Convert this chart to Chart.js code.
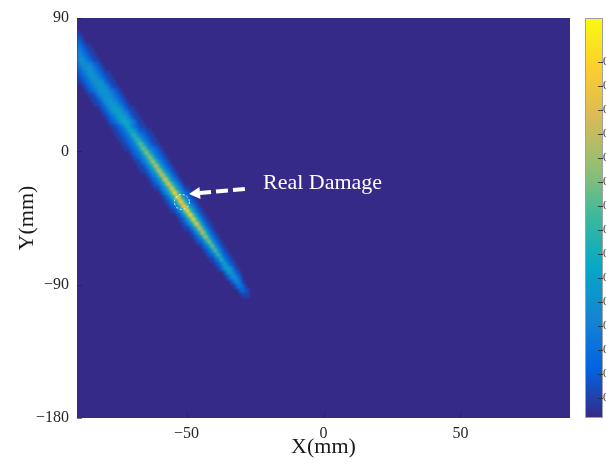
<!DOCTYPE html>
<html>
<head>
<meta charset="utf-8">
<script src="https://cdn.jsdelivr.net/npm/chart.js@4/dist/chart.umd.min.js"></script>
<style>
html,body{margin:0;padding:0;background:#ffffff;overflow:hidden}
canvas{display:block}
</style>
</head>
<body>
<canvas id="c" width="606" height="467"></canvas>
<script>
// ---------------- data ----------------
const xTickValues = [-50, 0, 50];
const yTickValues = [-180, -90, 0, 90];
const colorbarTickValues = [0.05, 0.11, 0.17, 0.23, 0.29, 0.35, 0.41, 0.47, 0.53, 0.59, 0.65, 0.71, 0.77, 0.83, 0.89];

// heat-map rows: row centre Y (mm), X (mm) of the first listed cell, cell levels (0..k = 0..20 of 20)
const rowY = [80, 77, 74, 71, 68, 65, 62, 59, 56, 53, 50, 47, 44, 41, 38, 35, 32, 29, 26, 23,
              20, 17, 14, 11, 8, 5, 2, -1, -4, -7, -10, -13, -16, -19, -22, -25, -28, -31, -34, -37,
              -40, -43, -46, -49, -52, -55, -58, -61, -64, -67, -70, -73, -76, -79, -82, -85, -88, -91, -94, -97];
const rowStartX = [-90, -90, -90, -90, -90, -90, -90, -90, -90, -90, -90, -90, -88, -87, -86, -85, -84, -82, -81, -80,
                   -79, -78, -77, -76, -75, -74, -73, -71, -70, -69, -68, -67, -65, -64, -63, -62, -60, -59, -58, -57,
                   -56, -54, -53, -52, -51, -49, -48, -47, -45, -44, -43, -42, -40, -39, -37, -36, -34, -33, -31, -30];
const rowLevels = [
  "1", "21", "321", "43211", "543211", "5543211", "56543211", "456554321", "3456654321", "234566543211",
  "1234566543211", "11234566653211", "1234566654211", "1234566654321", "1124566654321", "1123566654321",
  "1123567664321", "1235677653211", "1235677654211", "1234677754211", "1234678764311", "1123468643211",
  "11234687532211", "11234698543211", "11234699643211", "112346ab753211", "112346ac854321", "12346ad964321",
  "123469da64321", "113469eb75321", "112468ec75321", "112468ed85421", "12458de96421", "12357dga6431",
  "12357cgb7531", "11357bhc75311", "1357bid85321", "1247aif86321", "12469hg96321", "12369gh96421",
  "11358eia6421", "1257dib7421", "1247bib7421", "1246ahc7421", "11358fc7421", "1257ec7421",
  "1246cc6421", "1235ac6421", "1348c6421", "1247b6421", "1235a6321", "113496321",
  "12476321", "12577521", "1466421", "135642", "24541", "13431", "2321", "111"
];
const levelChars = "0123456789abcdefghijk";
const levelMax = 20;

// annotation (data coordinates, mm)
const damagePoint = [-51.7, -34.2];
const arrowFrom = [-28.7, -25.4];
const arrowTo = [-49.1, -28.8];
const labelAt = [-22.1, -21.4];
const labelText = "Real Damage";

// ---------------- styles ----------------
const cellW = 1;   // mm
const cellH = 3;   // mm
const SERIF = '"Liberation Serif", "Times New Roman", "DejaVu Serif", serif';
const PARULA = ['#352a87', '#0363e1', '#1485d4', '#06a7c6', '#38b99e', '#92bf73', '#d9ba56', '#fcce2e', '#f9fb0e'];

function hexRgb(h) { return [parseInt(h.slice(1, 3), 16), parseInt(h.slice(3, 5), 16), parseInt(h.slice(5, 7), 16)]; }
const PARULA_RGB = PARULA.map(hexRgb);
function parula(t) {
  t = Math.max(0, Math.min(1, t));
  const n = PARULA_RGB.length - 1;
  const f = t * n;
  const i = Math.min(Math.floor(f), n - 1);
  const r = f - i;
  const a = PARULA_RGB[i], b = PARULA_RGB[i + 1];
  return 'rgb(' + Math.round(a[0] + (b[0] - a[0]) * r) + ',' + Math.round(a[1] + (b[1] - a[1]) * r) + ',' + Math.round(a[2] + (b[2] - a[2]) * r) + ')';
}
function fmtMinus(v) { return v < 0 ? '\u2212' + Math.abs(v) : String(v); }

const heatPlugin = {
  id: 'heat',
  beforeDatasetsDraw(chart) {
    const { ctx, chartArea: ca, scales } = chart;
    const xs = scales.x, ys = scales.y;
    const off = document.createElement('canvas');
    off.width = chart.width; off.height = chart.height;
    const o = off.getContext('2d');
    o.fillStyle = parula(0);
    o.fillRect(ca.left - 6, ca.top - 6, ca.right - ca.left + 12, ca.bottom - ca.top + 12);
    rowY.forEach((yc, i) => {
      const yTop = ys.getPixelForValue(yc + cellH / 2);
      const yBot = ys.getPixelForValue(yc - cellH / 2);
      const s = rowLevels[i];
      for (let j = 0; j < s.length; j++) {
        const lv = levelChars.indexOf(s[j]);
        if (lv <= 0) continue;
        const x0 = xs.getPixelForValue(rowStartX[i] + j * cellW);
        const x1 = xs.getPixelForValue(rowStartX[i] + (j + 1) * cellW);
        o.fillStyle = parula(lv / levelMax);
        o.fillRect(x0, yTop, x1 - x0 + 0.6, yBot - yTop + 0.6);
      }
    });
    ctx.save();
    ctx.beginPath();
    ctx.rect(ca.left, ca.top, ca.right - ca.left, ca.bottom - ca.top);
    ctx.clip();
    ctx.fillStyle = parula(0);
    ctx.fillRect(ca.left, ca.top, ca.right - ca.left, ca.bottom - ca.top);
    ctx.filter = 'blur(1.1px)';
    ctx.drawImage(off, 0, 0);
    ctx.filter = 'none';
    ctx.restore();

    // inward tick marks
    ctx.save();
    ctx.strokeStyle = 'rgba(30,30,50,0.6)';
    ctx.lineWidth = 1;
    xTickValues.forEach(v => {
      const px = Math.round(xs.getPixelForValue(v)) + 0.5;
      ctx.beginPath(); ctx.moveTo(px, ca.bottom); ctx.lineTo(px, ca.bottom - 5); ctx.stroke();
    });
    yTickValues.forEach(v => {
      const py = Math.round(ys.getPixelForValue(v)) + 0.5;
      ctx.beginPath(); ctx.moveTo(ca.left, py); ctx.lineTo(ca.left + 5, py); ctx.stroke();
    });
    ctx.restore();
  },
  afterDatasetsDraw(chart) {
    const { ctx, scales } = chart;
    const xs = scales.x, ys = scales.y;
    ctx.save();
    // dashed circle
    const cx = xs.getPixelForValue(damagePoint[0]), cy = ys.getPixelForValue(damagePoint[1]);
    ctx.strokeStyle = 'rgba(255,255,255,0.9)';
    ctx.lineWidth = 1;
    ctx.setLineDash([2, 2]);
    ctx.beginPath(); ctx.arc(cx, cy, 7.5, 0, Math.PI * 2); ctx.stroke();
    // dashed arrow
    const ax0 = xs.getPixelForValue(arrowFrom[0]), ay0 = ys.getPixelForValue(arrowFrom[1]);
    const ax1 = xs.getPixelForValue(arrowTo[0]), ay1 = ys.getPixelForValue(arrowTo[1]);
    const ang = Math.atan2(ay1 - ay0, ax1 - ax0);
    const headLen = 11, headHalf = 6;
    const bx = ax1 - headLen * Math.cos(ang), by = ay1 - headLen * Math.sin(ang);
    ctx.strokeStyle = '#ffffff';
    ctx.lineWidth = 4;
    ctx.setLineDash([12, 5]);
    ctx.beginPath(); ctx.moveTo(ax0, ay0); ctx.lineTo(bx, by); ctx.stroke();
    ctx.setLineDash([]);
    ctx.fillStyle = '#ffffff';
    ctx.beginPath();
    ctx.moveTo(ax1, ay1);
    ctx.lineTo(bx + headHalf * Math.sin(ang), by - headHalf * Math.cos(ang));
    ctx.lineTo(bx - headHalf * Math.sin(ang), by + headHalf * Math.cos(ang));
    ctx.closePath(); ctx.fill();
    // label
    ctx.font = '22px ' + SERIF;
    ctx.fillStyle = '#ffffff';
    ctx.textAlign = 'left';
    ctx.textBaseline = 'middle';
    ctx.fillText(labelText, xs.getPixelForValue(labelAt[0]), ys.getPixelForValue(labelAt[1]));
    ctx.restore();
  },
  afterDraw(chart) {
    const { ctx } = chart;
    const cb = chart.scales.cb;
    const x0 = cb.left + 15, x1 = cb.left + 33;
    const yT = cb.getPixelForValue(1), yB = cb.getPixelForValue(0);
    ctx.save();
    const g = ctx.createLinearGradient(0, yB, 0, yT);
    PARULA.forEach((c, i) => g.addColorStop(i / (PARULA.length - 1), c));
    ctx.fillStyle = g;
    ctx.fillRect(x0, yT, x1 - x0, yB - yT);
    ctx.strokeStyle = '#a0a0a0';
    ctx.lineWidth = 1;
    ctx.strokeRect(x0 + 0.5, yT + 0.5, x1 - x0 - 1, yB - yT - 1);
    ctx.strokeStyle = 'rgba(40,40,40,0.8)';
    colorbarTickValues.forEach(v => {
      const py = Math.round(cb.getPixelForValue(v)) + 0.5;
      ctx.beginPath(); ctx.moveTo(x1 - 5, py); ctx.lineTo(x1, py); ctx.stroke();
    });
    ctx.restore();
  }
};

function noPadV(s) { s.paddingTop = 0; s.paddingBottom = 0; }

new Chart(document.getElementById('c'), {
  type: 'scatter',
  data: { datasets: [{ data: [] }] },
  options: {
    responsive: false,
    animation: false,
    devicePixelRatio: 1,
    layout: { padding: { top: 18, left: 0, right: 0, bottom: 0 } },
    plugins: { legend: { display: false }, tooltip: { enabled: false } },
    scales: {
      x: {
        type: 'linear', position: 'bottom', min: -90, max: 90,
        afterBuildTicks: s => { s.ticks = xTickValues.map(v => ({ value: v })); },
        afterFit: s => { s.height = 49; s.paddingLeft = 0; s.paddingRight = 0; },
        grid: { display: false, drawTicks: false },
        border: { display: false },
        ticks: { font: { family: SERIF, size: 16 }, color: '#262626', padding: 6, maxRotation: 0, autoSkip: false, callback: v => fmtMinus(v) },
        title: { display: true, text: 'X(mm)', font: { family: SERIF, size: 22 }, color: '#1a1a1a', padding: { top: 0, bottom: 7 } }
      },
      y: {
        type: 'linear', position: 'left', min: -180, max: 90,
        afterBuildTicks: s => { s.ticks = yTickValues.map(v => ({ value: v })); },
        afterFit: s => { s.width = 77; noPadV(s); },
        grid: { display: false, drawTicks: false },
        border: { display: false },
        ticks: { font: { family: SERIF, size: 16 }, color: '#262626', padding: 8, autoSkip: false, callback: v => fmtMinus(v) },
        title: { display: true, text: 'Y(mm)', font: { family: SERIF, size: 22 }, color: '#1a1a1a', padding: { top: 14, bottom: 0 } }
      },
      cb: {
        type: 'linear', position: 'right', min: 0, max: 1,
        afterBuildTicks: s => { s.ticks = colorbarTickValues.map(v => ({ value: v })); },
        afterFit: s => { s.width = 36; noPadV(s); },
        grid: { display: false, drawTicks: false },
        border: { display: false },
        ticks: { font: { family: SERIF, size: 12 }, color: '#333333', padding: 33, autoSkip: false, callback: v => v.toFixed(2) }
      }
    }
  },
  plugins: [heatPlugin]
});
</script>
</body>
</html>
